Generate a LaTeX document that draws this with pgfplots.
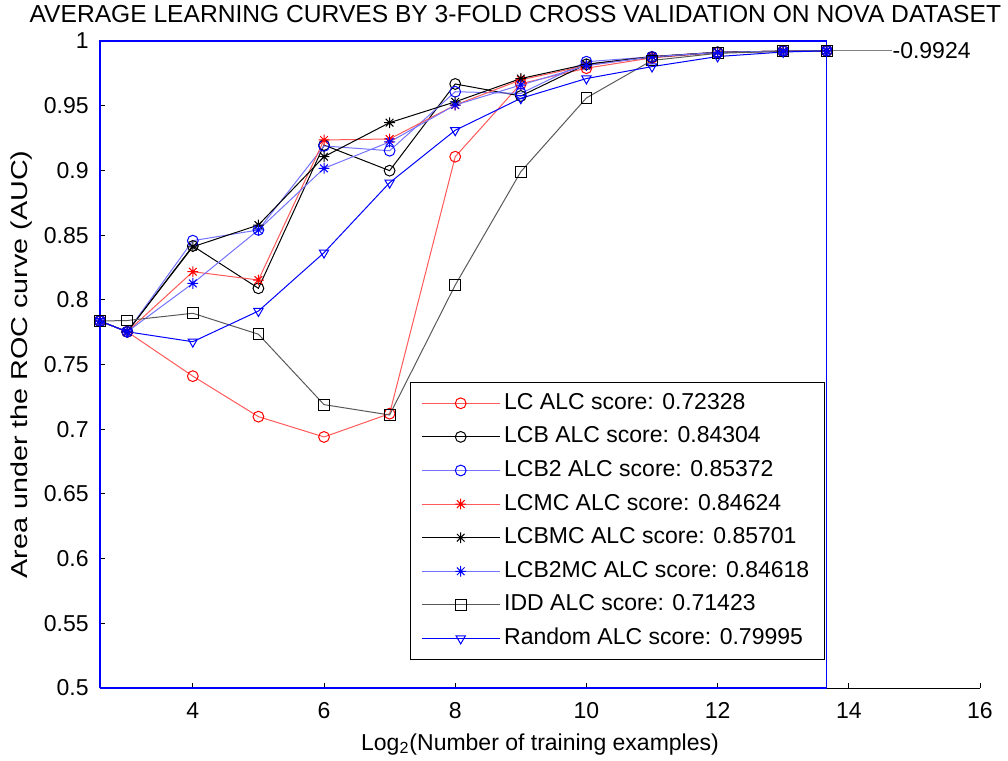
\documentclass[border=0pt]{standalone}
\usepackage{fontspec}
\setmainfont{Liberation Sans}
\usepackage{pgfplots}
\usepackage{pgfplotstable}
\pgfplotsset{compat=1.18}
\definecolor{lred}{rgb}{1,0.35,0.35}
\definecolor{lblue}{rgb}{0.45,0.45,1}
\definecolor{idd}{rgb}{0.35,0.35,0.35}
\pgfdeclareplotmark{mstar}{%
  \pgfpathmoveto{\pgfqpoint{-\pgfplotmarksize}{0pt}}\pgfpathlineto{\pgfqpoint{\pgfplotmarksize}{0pt}}%
  \pgfpathmoveto{\pgfqpoint{0pt}{-\pgfplotmarksize}}\pgfpathlineto{\pgfqpoint{0pt}{\pgfplotmarksize}}%
  \pgfpathmoveto{\pgfqpoint{-0.707\pgfplotmarksize}{-0.707\pgfplotmarksize}}\pgfpathlineto{\pgfqpoint{0.707\pgfplotmarksize}{0.707\pgfplotmarksize}}%
  \pgfpathmoveto{\pgfqpoint{-0.707\pgfplotmarksize}{0.707\pgfplotmarksize}}\pgfpathlineto{\pgfqpoint{0.707\pgfplotmarksize}{-0.707\pgfplotmarksize}}%
  \pgfusepathqstroke}
\pgfplotstableread{
x      LC     LCB    LCBtwo LCMC   LCBMC  LCBtwoMC IDD    Rnd
2.585  0.7836 0.7836 0.7836 0.7836 0.7836 0.7836   0.7836 0.7836
3      0.7753 0.7753 0.7753 0.7753 0.7753 0.7753   0.7840 0.7753
4      0.7410 0.8416 0.8457 0.8217 0.8410 0.8127   0.7896 0.7676
5      0.7097 0.8089 0.8540 0.8153 0.8578 0.8540   0.7734 0.7913
6      0.6940 0.9196 0.9189 0.9235 0.9106 0.9016   0.7190 0.8364
7      0.7120 0.8998 0.9152 0.9243 0.9369 0.9220   0.7110 0.8905
8      0.9106 0.9668 0.9608 0.9505 0.9530 0.9505   0.8114 0.9310
9      0.9670 0.9575 0.9595 0.9700 0.9710 0.9660   0.8990 0.9557
10     0.9790 0.9820 0.9840 0.9810 0.9820 0.9810   0.9560 0.9710
11     0.9870 0.9875 0.9878 0.9880 0.9880 0.9878   0.9850 0.9802
12     0.9910 0.9912 0.9912 0.9913 0.9913 0.9912   0.9905 0.9880
13     0.9920 0.9922 0.9922 0.9922 0.9922 0.9922   0.9920 0.9915
13.664 0.9924 0.9924 0.9924 0.9924 0.9924 0.9924   0.9924 0.9924
}\datatable
\begin{document}
\begin{tikzpicture}
\begin{axis}[
  scale only axis, width=440pt, height=323.5pt,
  xmin=2.585, xmax=16, ymin=0.5, ymax=1,
  axis x line=bottom, axis y line=left,
  axis line style={-, black, line width=0.5pt},
  xtick={4,6,8,10,12,14,16},
  xticklabels={4,6,8,10,12,14,16},
  ytick={0.5,0.55,0.6,0.65,0.7,0.75,0.8,0.85,0.9,0.95,1},
  yticklabels={0.5,0.55,0.6,0.65,0.7,0.75,0.8,0.85,0.9,0.95,1},
  tick align=inside, major tick length=2.5pt,
  tick style={black, line width=0.5pt},
  ticklabel style={font=\fontsize{11.5}{13}\selectfont},
  xticklabel style={anchor=base, yshift=-15pt},
  yticklabel style={anchor=east, inner sep=0pt, xshift=-5.5pt},
  /pgf/number format/assume math mode=true,
  label style={font=\fontsize{11.5}{13}\selectfont},
  xlabel={Log\textsubscript{2}(Number of training examples)},
  xlabel style={at={(axis description cs:0.5,0)}, anchor=base, yshift=-31pt},
  ylabel={Area under the ROC curve (AUC)},
  ylabel style={at={(axis description cs:-0.0886,0.5)}, anchor=center, xscale=1.25},
  every axis title shift=0pt,
  title={AVERAGE LEARNING CURVES BY 3-FOLD CROSS VALIDATION ON NOVA DATASET},
  title style={at={(axis description cs:0.472,1)}, anchor=base, yshift=9.5pt, inner sep=0pt, font=\fontsize{12.3}{14}\selectfont},
  clip=false,
  every axis plot/.append style={line width=0.5pt, mark size=2.7pt},
  legend cell align=left,
  legend image code/.code={\draw[mark repeat=2,mark phase=2,#1] plot coordinates {(0pt,0pt) (19.5pt,0pt) (39pt,0pt)};},
  legend style={at={(axis description cs:0.8239,0.0433)}, anchor=south east,
    draw=black, line width=0.7pt, font=\fontsize{11.5}{13}\selectfont,
    inner xsep=5.5pt, inner ysep=2pt, column sep=0pt, row sep=0pt,
    nodes={text height=9pt, text depth=3pt, inner ysep=2.4pt, inner xsep=2pt}},
]
\addplot[lred, mark=o, mark options={red}] table[x=x,y=LC] {\datatable};
\addlegendentry{LC ALC score: 0.72328}
\addplot[black, mark=o] table[x=x,y=LCB] {\datatable};
\addlegendentry{LCB ALC score: 0.84304}
\addplot[lblue, mark=o, mark options={blue}] table[x=x,y=LCBtwo] {\datatable};
\addlegendentry{LCB2 ALC score: 0.85372}
\addplot[lred, mark=mstar, mark options={red}] table[x=x,y=LCMC] {\datatable};
\addlegendentry{LCMC ALC score: 0.84624}
\addplot[black, mark=mstar] table[x=x,y=LCBMC] {\datatable};
\addlegendentry{LCBMC ALC score: 0.85701}
\addplot[lblue, mark=mstar, mark options={blue}] table[x=x,y=LCBtwoMC] {\datatable};
\addlegendentry{LCB2MC ALC score: 0.84618}
\addplot[idd, mark=square, mark options={black}] table[x=x,y=IDD] {\datatable};
\addlegendentry{IDD ALC score: 0.71423}
\addplot[blue, mark=triangle, mark options={blue, rotate=180}] table[x=x,y=Rnd] {\datatable};
\addlegendentry{Random ALC score: 0.79995}
% blue frame
\addplot[blue, line width=0.6pt, no marks, forget plot] coordinates {(2.585,0.5) (2.585,1) (13.664,1) (13.664,0.5) (2.585,0.5)};
% final value line
\addplot[gray, line width=0.5pt, no marks, forget plot] coordinates {(13.664,0.9924) (14.66,0.9924)}
  node[pos=1, anchor=west, inner sep=0pt, text=black, font=\fontsize{11.5}{13}\selectfont] {-0.9924};
\end{axis}
\pgfresetboundingbox
\useasboundingbox (-50pt,-36.5pt) rectangle (454pt,344pt);
\end{tikzpicture}
\end{document}
